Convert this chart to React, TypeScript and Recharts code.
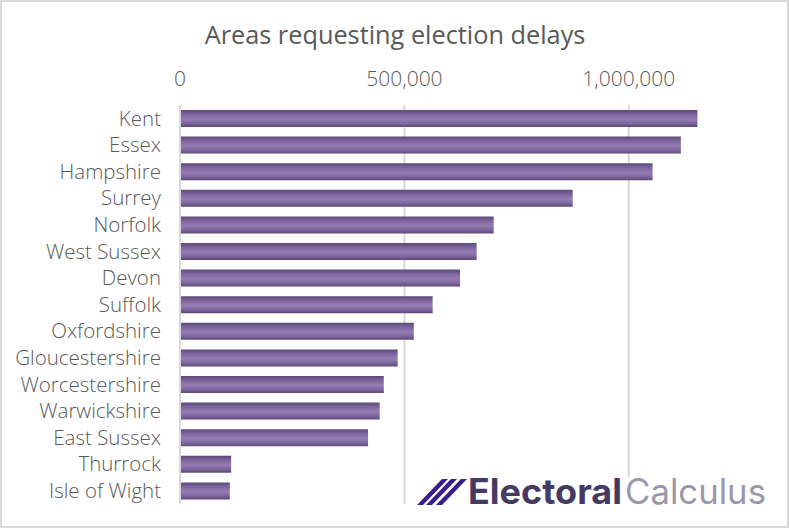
import React from "react";
import { BarChart, Bar, XAxis, YAxis, CartesianGrid } from "recharts";

const areas = ["Kent", "Essex", "Hampshire", "Surrey", "Norfolk", "West Sussex", "Devon", "Suffolk", "Oxfordshire", "Gloucestershire", "Worcestershire", "Warwickshire", "East Sussex", "Thurrock", "Isle of Wight"];
const electors = [1153000, 1116000, 1053000, 875000, 699000, 661000, 624000, 563000, 521000, 485000, 454000, 445000, 419000, 114000, 111000];
const xTicks = [0, 500000, 1000000];
const rows = areas.map((area, i) => ({ area, electors: electors[i] }));

const font = "'Open Sans', sans-serif";
const yTickStyle = { fill: "#595959", fontSize: 20.5, fontFamily: font, fontWeight: 300 };
const xTickStyle = { fill: "#595959", fontSize: 21, fontFamily: font, fontWeight: 300 };

export default function App() {
  return (
    <div style={{ position: "absolute", left: 0, top: 0, width: 789, height: 528, background: "#fff", overflow: "hidden" }}>
      <BarChart width={789} height={528} data={rows} layout="vertical" margin={{ top: 70, right: 48, bottom: 24, left: 0 }} barSize={17}>
        <defs>
          <linearGradient id="barFill" x1="0" y1="0" x2="0" y2="1">
            <stop offset="0" stopColor="#5c4878" />
            <stop offset="0.25" stopColor="#7d659c" />
            <stop offset="0.55" stopColor="#947cb4" />
            <stop offset="0.8" stopColor="#7d659c" />
            <stop offset="1" stopColor="#5c4878" />
          </linearGradient>
        </defs>
        <CartesianGrid horizontal={false} stroke="#d9d9d9" strokeWidth={2} verticalValues={xTicks} />
        <XAxis type="number" orientation="top" domain={[0, 1250000]} ticks={xTicks} height={35} axisLine={false} tickLine={false} tick={xTickStyle} tickMargin={13} tickFormatter={(v: number) => v.toLocaleString("en-GB")} />
        <YAxis type="category" dataKey="area" width={180} interval={0} axisLine={{ stroke: "#d9d9d9", strokeWidth: 2 }} tickLine={false} tick={yTickStyle} tickMargin={13} />
        <Bar dataKey="electors" fill="url(#barFill)" isAnimationActive={false} />
      </BarChart>
      <svg width={789} height={528} style={{ position: "absolute", left: 0, top: 0, pointerEvents: "none" }}>
        <rect x={1} y={1} width={787} height={526} fill="none" stroke="#d9d9d9" strokeWidth={2} />
        <text x={395} y={44} textAnchor="middle" fontFamily={font} fontSize={25.3} fill="#595959">Areas requesting election delays</text>
        <rect x={412} y={477} width={360} height={34} fill="#fff" />
        <polygon points="417,505 442,479 448,479 423,505" fill="#3a1c8c" />
        <polygon points="426,505 451,479 457,479 432,505" fill="#3a1c8c" />
        <polygon points="436,505 461,479 467,479 442,505" fill="#3a1c8c" />
        <text x={468} y={504} fontFamily="Inter, sans-serif" fontWeight={700} fontSize={35} fill="#453a63" textLength={154} lengthAdjust="spacingAndGlyphs">Electoral</text>
        <text x={625} y={504} fontFamily="Inter, sans-serif" fontWeight={400} fontSize={35} fill="#9a97ad" textLength={141} lengthAdjust="spacingAndGlyphs">Calculus</text>
      </svg>
    </div>
  );
}
